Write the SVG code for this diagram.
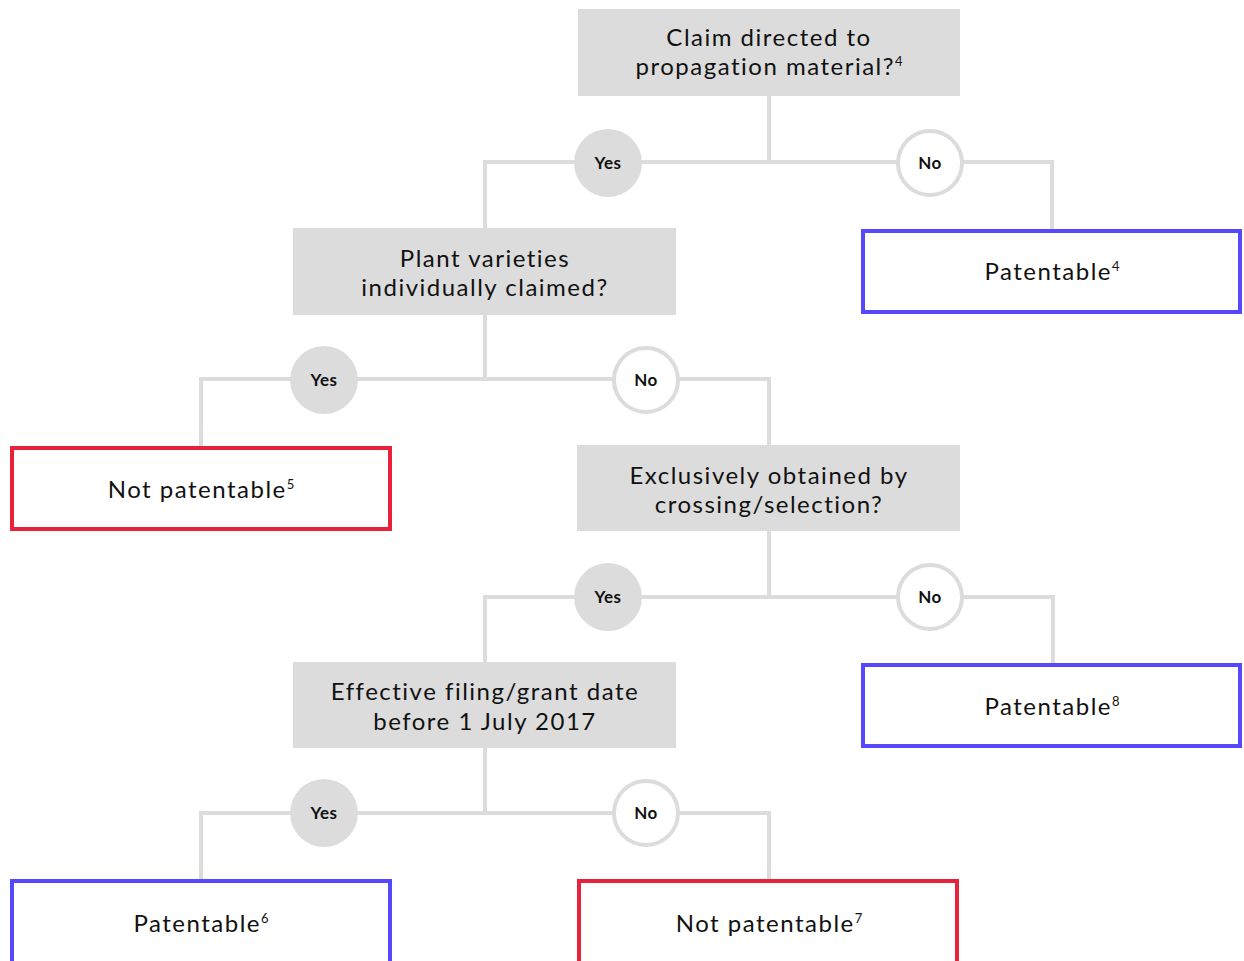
<svg xmlns="http://www.w3.org/2000/svg" width="1244" height="961" viewBox="0 0 1244 961">
<style>
.q{fill:#dcdcdc}
.t{font-family:"Lato","Liberation Sans",sans-serif;font-size:24px;fill:#111;text-anchor:middle;letter-spacing:1.5px}
.s{font-size:13px;letter-spacing:0}
.l{font-family:"Lato","Liberation Sans",sans-serif;font-size:17px;font-weight:bold;fill:#111;text-anchor:middle;letter-spacing:0.5px}
.c{fill:none;stroke:#dcdcdc;stroke-width:4}
.yes{fill:#dcdcdc}
.no{fill:#fff;stroke:#dcdcdc;stroke-width:4}
.pat{fill:#fff;stroke:#5548ff;stroke-width:4}
.np{fill:#fff;stroke:#e8223a;stroke-width:4}
</style>
<rect width="1244" height="961" fill="#fff"/>
<g id="connectors">
<path class="c" d="M769 96V162M485 229V162H1052V230"/>
<path class="c" d="M485 315V379M201 447V379H769V446"/>
<path class="c" d="M769 531V597M485 663V597H1053V663"/>
<path class="c" d="M485 748V813M201 880V813H769V880"/>
</g>
<g id="q1"><rect class="q" x="578" y="9" width="382" height="87"/>
<text class="t" x="769" y="46">Claim directed to</text><text class="t" x="769" y="75">propagation material?<tspan class="s" dy="-9">4</tspan></text></g>
<g id="yes1"><circle class="yes" cx="608" cy="163" r="34"/><text class="l" x="608" y="169">Yes</text></g>
<g id="no1"><circle class="no" cx="930" cy="163" r="32"/><text class="l" x="930" y="169">No</text></g>
<g id="pat4"><rect class="pat" x="863" y="231" width="377" height="81"/><text class="t" x="1052" y="280">Patentable<tspan class="s" dy="-9">4</tspan></text></g>
<g id="q2"><rect class="q" x="293" y="228" width="383" height="87"/>
<text class="t" x="485" y="267">Plant varieties</text><text class="t" x="485" y="296">individually claimed?</text></g>
<g id="yes2"><circle class="yes" cx="324" cy="380" r="34"/><text class="l" x="324" y="386">Yes</text></g>
<g id="no2"><circle class="no" cx="646" cy="380" r="32"/><text class="l" x="646" y="386">No</text></g>
<g id="np5"><rect class="np" x="12" y="448" width="378" height="81"/><text class="t" x="201" y="498">Not patentable<tspan class="s" dy="-9">5</tspan></text></g>
<g id="q3"><rect class="q" x="577" y="445" width="383" height="86"/>
<text class="t" x="769" y="484">Exclusively obtained by</text><text class="t" x="769" y="513">crossing/selection?</text></g>
<g id="yes3"><circle class="yes" cx="608" cy="597" r="34"/><text class="l" x="608" y="603">Yes</text></g>
<g id="no3"><circle class="no" cx="930" cy="597" r="32"/><text class="l" x="930" y="603">No</text></g>
<g id="pat8"><rect class="pat" x="863" y="665" width="377" height="81"/><text class="t" x="1052" y="715">Patentable<tspan class="s" dy="-9">8</tspan></text></g>
<g id="q4"><rect class="q" x="293" y="662" width="383" height="86"/>
<text class="t" x="485" y="700">Effective filing/grant date</text><text class="t" x="485" y="730">before 1 July 2017</text></g>
<g id="yes4"><circle class="yes" cx="324" cy="813" r="34"/><text class="l" x="324" y="819">Yes</text></g>
<g id="no4"><circle class="no" cx="646" cy="813" r="32"/><text class="l" x="646" y="819">No</text></g>
<g id="pat6"><rect class="pat" x="12" y="881" width="378" height="90"/><text class="t" x="201" y="932">Patentable<tspan class="s" dy="-9">6</tspan></text></g>
<g id="np7"><rect class="np" x="579" y="881" width="378" height="90"/><text class="t" x="769" y="932">Not patentable<tspan class="s" dy="-9">7</tspan></text></g>
</svg>
